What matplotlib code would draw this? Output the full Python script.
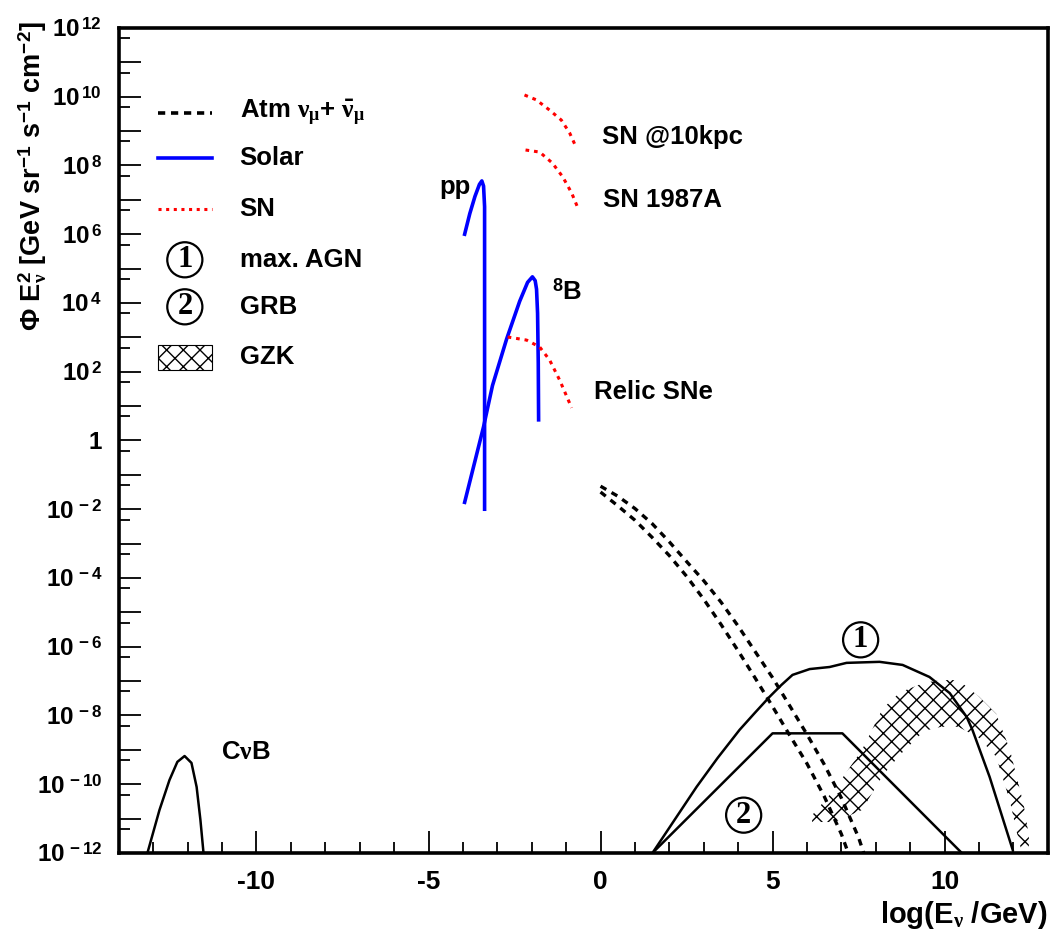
import numpy as np
import matplotlib
matplotlib.use('Agg')
import matplotlib.pyplot as plt
from matplotlib.ticker import FixedLocator, FuncFormatter
from matplotlib.patches import Rectangle

plt.rcParams['font.family'] = ['Liberation Sans', 'DejaVu Sans']
plt.rcParams['font.weight'] = 'bold'
plt.rcParams['mathtext.fontset'] = 'custom'
plt.rcParams['mathtext.rm'] = 'Liberation Sans:bold'
plt.rcParams['mathtext.bf'] = 'Liberation Sans:bold'
plt.rcParams['mathtext.sf'] = 'Liberation Sans:bold'
plt.rcParams['mathtext.it'] = 'Liberation Serif'
plt.rcParams['axes.unicode_minus'] = False
plt.rcParams['hatch.linewidth'] = 1.0

# x = log10(E / GeV), y = log10(flux)
cnub_x = [-13.17, -12.82, -12.53, -12.30, -12.09, -11.89, -11.74, -11.63, -11.54]
cnub_y = [-12.0, -10.75, -9.88, -9.35, -9.18, -9.38, -10.08, -11.04, -12.0]

pp_x = [-3.95, -3.80, -3.65, -3.52, -3.45, -3.40, -3.37, -3.37]
pp_y = [6.0, 6.6, 7.1, 7.45, 7.55, 7.4, 6.8, -2.0]

b8_x = [-3.95, -3.40, -3.14, -2.73, -2.35, -2.12, -1.98, -1.90, -1.86, -1.83, -1.81, -1.80]
b8_y = [-1.8, 0.4, 1.6, 2.95, 4.05, 4.6, 4.76, 4.65, 4.4, 3.7, 2.25, 0.6]

sn10_x = [-2.21, -1.87, -1.48, -1.14, -0.90, -0.70]
sn10_y = [10.05, 9.91, 9.61, 9.32, 8.95, 8.51]

sn87_x = [-2.18, -1.77, -1.40, -1.10, -0.84, -0.67]
sn87_y = [8.45, 8.39, 8.07, 7.67, 7.20, 6.79]

relic_x = [-2.70, -2.15, -1.77, -1.48, -1.19, -0.84]
relic_y = [3.01, 2.92, 2.72, 2.34, 1.76, 0.95]

atm1_x = [0.0, 0.5, 1.0, 1.5, 2.0, 2.5, 3.0, 3.5, 4.0, 4.5, 5.0, 5.5, 6.0, 6.5, 7.0, 7.2]
atm1_y = [-1.50, -1.90, -2.32, -2.82, -3.35, -3.95, -4.62, -5.35, -6.12, -6.92, -7.74, -8.58,
          -9.40, -10.35, -11.45, -12.0]
atm2_x = [0.0, 0.5, 1.0, 1.5, 2.0, 2.5, 3.0, 3.5, 4.0, 4.5, 5.0, 5.5, 6.0, 6.5, 7.0, 7.5, 7.65]
atm2_y = [-1.33, -1.62, -1.98, -2.42, -2.95, -3.52, -4.08, -4.70, -5.40, -6.15, -6.90, -7.72,
          -8.55, -9.42, -10.4, -11.55, -12.0]

agn_x = [1.51, 2.15, 2.79, 3.40, 4.04, 4.48, 4.91, 5.26, 5.58, 6.08, 6.66, 7.15, 8.11, 8.78,
         9.56, 10.15, 10.64, 10.81, 11.31, 11.98]
agn_y = [-12.0, -11.04, -10.08, -9.24, -8.42, -7.93, -7.46, -7.11, -6.82, -6.65, -6.59, -6.47,
         -6.44, -6.53, -6.88, -7.35, -8.04, -8.42, -9.79, -11.91]

grb_x = [1.51, 5.0, 7.03, 10.5]
grb_y = [-12.0, -8.52, -8.52, -12.0]

gzk_x = [6.15, 6.8, 7.6, 8.2, 8.7, 9.4, 9.9, 10.4, 11.0, 11.5, 11.9, 12.1, 12.3, 12.45]
gzk_hi = [-10.9, -10.15, -9.0, -7.8, -7.33, -7.05, -6.97, -6.97, -7.45, -7.95, -9.0, -9.8, -10.6, -11.5]
gzk_lo = [-11.1, -11.1, -10.75, -9.75, -9.15, -8.45, -8.33, -8.33, -8.65, -9.2, -10.5, -11.4, -12.2, -12.6]

ydecades = list(range(-12, 13))

fig = plt.figure(figsize=(10.52, 9.32), dpi=100)
ax = fig.add_axes([0.113, 0.0848, 0.883, 0.8852])
ax.set_yscale('log')
ax.set_xlim(-14, 13)
ax.set_ylim(1e-12, 1e12)

p = lambda v: 10.0 ** np.array(v)

ax.plot(cnub_x, p(cnub_y), color='black', lw=1.8)
ax.plot(pp_x, p(pp_y), color='#0000ff', lw=2.6)
ax.plot(b8_x, p(b8_y), color='#0000ff', lw=2.6)
for xs, ys in [(sn10_x, sn10_y), (sn87_x, sn87_y), (relic_x, relic_y)]:
    ax.plot(xs, p(ys), color='#ff0000', lw=2.2, linestyle=(0, (1.2, 1.6)))
for xs, ys in [(atm1_x, atm1_y), (atm2_x, atm2_y)]:
    ax.plot(xs, p(ys), color='black', lw=2.4, linestyle=(0, (2.0, 1.8)))
ax.plot(agn_x, p(agn_y), color='black', lw=1.8)
ax.plot(grb_x, p(grb_y), color='black', lw=1.8)
ax.fill_between(gzk_x, p(gzk_lo), p(gzk_hi), facecolor='none', edgecolor='black',
                hatch='xx', linewidth=0)

# labels on the plot
tk = dict(fontsize=18.5, fontweight='bold')
ax.text(-3.78, p(7.37), 'pp', ha='right', va='center', **tk)
ax.text(-1.42, p(4.32), r'$^{8}$B', ha='left', va='center', **tk)
ax.text(0.03, p(8.83), 'SN @10kpc', ha='left', va='center', **tk)
ax.text(0.06, p(7.0), 'SN 1987A', ha='left', va='center', **tk)
ax.text(-0.2, p(1.41), 'Relic SNe', ha='left', va='center', **tk)
ax.text(-11.02, p(-9.06), r'C$\nu$B', ha='left', va='center', **tk)

circ = dict(fontsize=22, fontweight='bold', family='Liberation Serif', ha='center', va='center',
            bbox=dict(boxstyle='circle,pad=0.1', fc='none', ec='black', lw=1.6))
ax.text(7.56, p(-5.8), '1', **circ)
ax.text(4.16, p(-10.9), '2', **circ)

# legend
tr = ax.transAxes
lx0, lx1, tx = 0.042, 0.100, 0.130
rows = [0.897, 0.842, 0.781, 0.719, 0.662, 0.601]
ax.plot([lx0, lx1], [rows[0]] * 2, transform=tr, color='black', lw=2.6, linestyle=(0, (2.0, 1.6)))
ax.plot([lx0, lx1], [rows[1]] * 2, transform=tr, color='#0000ff', lw=2.6)
ax.plot([lx0, lx1], [rows[2]] * 2, transform=tr, color='#ff0000', lw=2.2, linestyle=(0, (1.0, 1.5)))
ax.text((lx0 + lx1) / 2, rows[3], '1', transform=tr, **circ)
ax.text((lx0 + lx1) / 2, rows[4], '2', transform=tr, **circ)
ax.add_patch(Rectangle((lx0, rows[5] - 0.015), lx1 - lx0, 0.030, transform=tr,
                       facecolor='none', edgecolor='black', hatch='xx', lw=0.8))
names = [r'Atm $\nu_{\mu}$+ $\bar{\nu}_{\mu}$', 'Solar', 'SN', 'max. AGN', 'GRB', 'GZK']
for r, n in zip(rows, names):
    ax.text(tx, r, n, transform=tr, ha='left', va='center', **tk)

# axes
for s in ax.spines.values():
    s.set_linewidth(2.6)


def ylab(v, pos):
    d = int(round(np.log10(v)))
    if d % 2:
        return ''
    return '1' if d == 0 else r'$10^{\,%d}$' % d


ax.yaxis.set_major_locator(FixedLocator(p(ydecades)))
ax.yaxis.set_minor_locator(FixedLocator(5 * p(ydecades[:-1])))
ax.yaxis.set_major_formatter(FuncFormatter(ylab))
ax.yaxis.set_minor_formatter(FuncFormatter(lambda v, pos: ''))
ax.xaxis.set_major_locator(FixedLocator([-10, -5, 0, 5, 10]))
ax.xaxis.set_minor_locator(FixedLocator(list(range(-13, 13))))
ax.tick_params(which='both', direction='in', top=False, right=False, width=1.3)
ax.tick_params(which='major', length=16, pad=12)
ax.tick_params(axis='y', which='major', labelsize=17.5)
ax.tick_params(axis='x', which='major', labelsize=19)
ax.tick_params(which='minor', length=8)
for lab in ax.get_xticklabels() + ax.get_yticklabels():
    lab.set_fontweight('bold')

ax.set_xlabel(r'log(E$_{\nu}$ /GeV)', fontsize=21, fontweight='bold', loc='right', labelpad=4)
fig.text(0.031, 0.811, r'$\Phi$ E$_{\nu}^{2}$ [GeV sr$^{-1}$ s$^{-1}$ cm$^{-2}$]', rotation=90,
         ha='center', va='center', fontsize=19.5, fontweight='bold')

fig.savefig('out.png', dpi=100)
